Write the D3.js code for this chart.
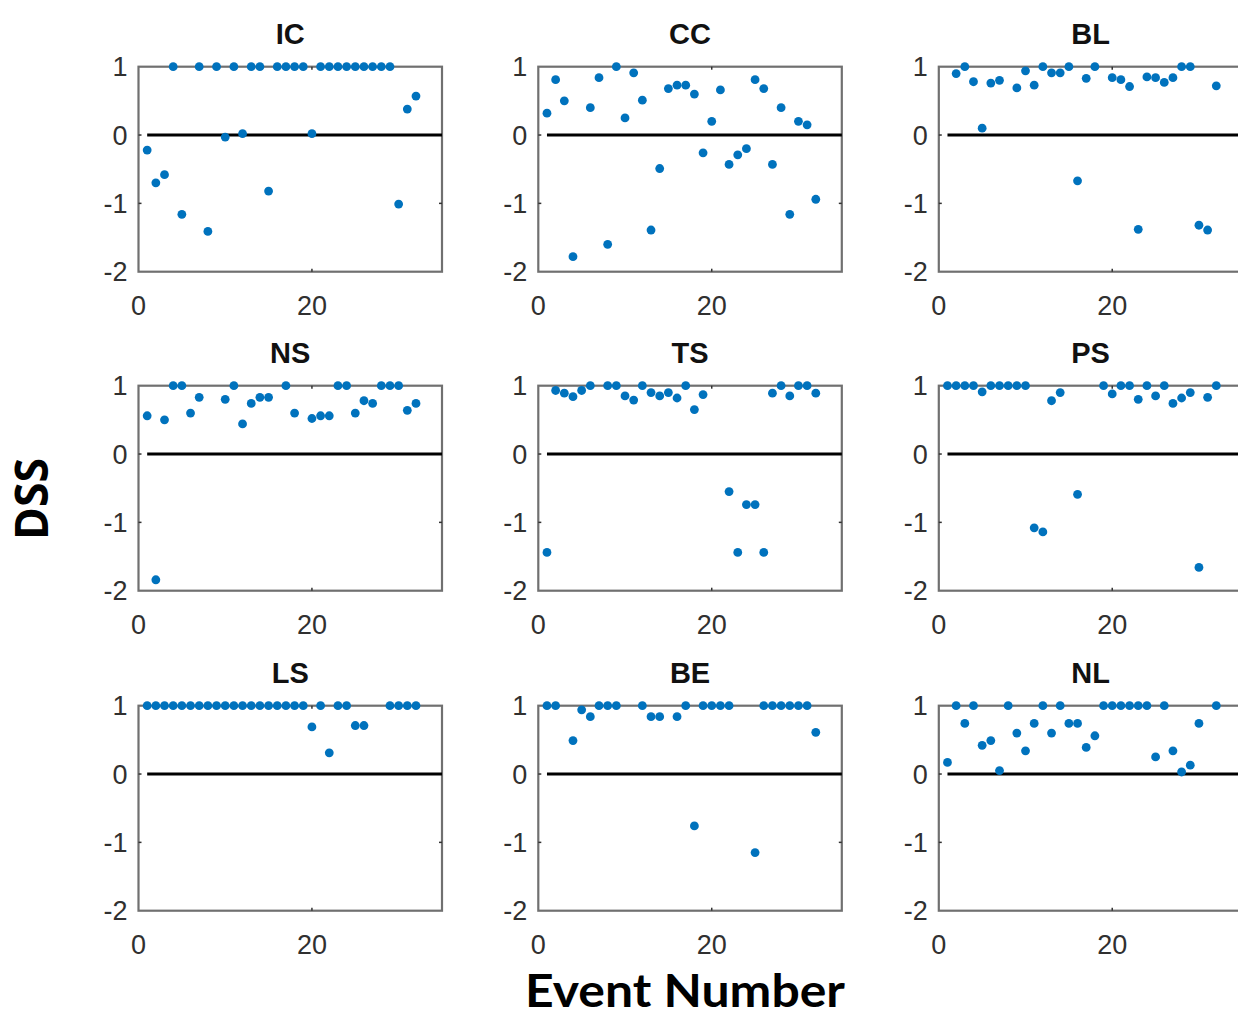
<!DOCTYPE html>
<html><head><meta charset="utf-8">
<script src="https://cdn.jsdelivr.net/npm/d3@7"></script>
<style>html,body{margin:0;padding:0;background:#fff;overflow:hidden}</style>
</head><body>
<script>
const categories = ["IC","CC","BL","NS","TS","PS","LS","BE","NL"];
const xTicks = [0, 20];
const yTicks = [-2, -1, 0, 1];
const _ = null;
// DSS value for events 1..32 (null = no value)
const IC = [-0.22,-0.70,-0.58,1,-1.16,_,1,-1.41,1,-0.03,1,0.02,1,1,-0.82,1,1,1,1,0.02,1,1,1,1,1,1,1,1,1,-1.01,0.38,0.57];
const CC = [0.32,0.81,0.50,-1.78,_,0.40,0.84,-1.60,1,0.25,0.91,0.51,-1.39,-0.49,0.68,0.73,0.73,0.60,-0.26,0.20,0.66,-0.43,-0.29,-0.20,0.81,0.68,-0.43,0.40,-1.16,0.20,0.15,-0.94];
const BL = [_,0.90,1,0.78,0.10,0.76,0.80,_,0.69,0.94,0.73,1,0.91,0.91,1,-0.67,0.83,1,_,0.84,0.81,0.71,-1.38,0.85,0.84,0.77,0.84,1,1,-1.32,-1.39,0.72];
const NS = [0.56,-1.84,0.50,1,1,0.60,0.83,_,_,0.80,1,0.44,0.74,0.83,0.83,_,1,0.60,_,0.52,0.56,0.56,1,1,0.60,0.78,0.74,1,1,1,0.64,0.74];
const TS = [-1.44,0.93,0.89,0.84,0.93,1,_,1,1,0.85,0.79,1,0.90,0.85,0.90,0.82,1,0.65,0.87,_,_,-0.55,-1.44,-0.74,-0.74,-1.44,0.89,1,0.85,1,1,0.89];
const PS = [1,1,1,1,0.91,1,1,1,1,1,-1.08,-1.14,0.78,0.90,_,-0.59,_,_,1,0.88,1,1,0.80,1,0.85,1,0.74,0.82,0.90,-1.66,0.83,1];
const LS = [1,1,1,1,1,1,1,1,1,1,1,1,1,1,1,1,1,1,1,0.69,1,0.31,1,1,0.71,0.71,_,_,1,1,1,1];
const BE = [1,1,_,0.49,0.94,0.84,1,1,1,_,_,1,0.84,0.84,_,0.84,1,-0.76,1,1,1,1,_,_,-1.15,1,1,1,1,1,1,0.61];
const NL = [0.17,1,0.74,1,0.42,0.49,0.05,1,0.60,0.34,0.74,1,0.60,1,0.74,0.74,0.39,0.56,1,1,1,1,1,1,0.25,1,0.34,0.03,0.13,0.74,_,1];
const seriesList = [IC, CC, BL, NS, TS, PS, LS, BE, NL];

const W = 1238, H = 1018;
const svg = d3.select("body").append("svg").attr("width", W).attr("height", H);

const colX = [138.5, 538.3, 938.8];
const rowY = [66.7, 385.7, 705.7];
const pw = 303.5, ph = 205;
const blue = "#0072BD";

categories.forEach((cat, i) => {
  const r = Math.floor(i / 3), c = i % 3;
  const x0 = colX[c], y0 = rowY[r];
  const g = svg.append("g").attr("transform", `translate(${x0},${y0})`);
  const x = d3.scaleLinear().domain([0, 35]).range([0, pw]);
  const y = d3.scaleLinear().domain([-2, 1]).range([ph, 0]);

  // box
  g.append("rect").attr("x", 0).attr("y", 0).attr("width", pw).attr("height", ph)
    .attr("fill", "none").attr("stroke", "#707070").attr("stroke-width", 2.2);

  // ticks inside
  const tl = 3;
  xTicks.filter(t => t > 0 && t < 35).forEach(t => {
    g.append("line").attr("x1", x(t)).attr("x2", x(t)).attr("y1", ph).attr("y2", ph - tl).attr("stroke", "#333").attr("stroke-width", 1.5);
    g.append("line").attr("x1", x(t)).attr("x2", x(t)).attr("y1", 0).attr("y2", tl).attr("stroke", "#333").attr("stroke-width", 1.5);
  });
  yTicks.filter(t => t > -2 && t < 1).forEach(t => {
    g.append("line").attr("x1", 0).attr("x2", tl).attr("y1", y(t)).attr("y2", y(t)).attr("stroke", "#333").attr("stroke-width", 1.5);
    g.append("line").attr("x1", pw).attr("x2", pw - tl).attr("y1", y(t)).attr("y2", y(t)).attr("stroke", "#333").attr("stroke-width", 1.5);
  });

  // tick labels
  g.selectAll("text.xt").data(xTicks).enter().append("text")
    .attr("x", d => x(d)).attr("y", ph + 43)
    .attr("text-anchor", "middle").attr("font-family", "'Liberation Sans', Arial, sans-serif")
    .attr("font-size", 27).attr("fill", "#303030").text(d => d);
  g.selectAll("text.yt").data(yTicks).enter().append("text")
    .attr("x", -11).attr("y", d => y(d)).attr("dy", "0.36em")
    .attr("text-anchor", "end").attr("font-family", "'Liberation Sans', Arial, sans-serif")
    .attr("font-size", 27).attr("fill", "#303030").text(d => d);

  // zero line
  g.append("line").attr("x1", x(1)).attr("x2", x(35)).attr("y1", y(0)).attr("y2", y(0))
    .attr("stroke", "#000").attr("stroke-width", 3);

  // title
  g.append("text").attr("x", pw / 2).attr("y", -23)
    .attr("text-anchor", "middle").attr("font-family", "'Liberation Sans', Arial, sans-serif")
    .attr("font-weight", "bold").attr("font-size", 29).attr("fill", "#111").text(cat);

  // points
  const pts = seriesList[i].map((v, k) => ({ e: k + 1, v })).filter(d => d.v !== null);
  g.selectAll("circle.pt").data(pts).enter().append("circle")
    .attr("cx", d => x(d.e)).attr("cy", d => y(d.v)).attr("r", 4.4)
    .attr("fill", blue);
});

// axis labels
svg.append("text").attr("x", 685).attr("y", 1007).attr("text-anchor", "middle")
  .attr("font-family", "Lato, 'Open Sans', sans-serif").attr("font-weight", "bold")
  .attr("font-size", 45).attr("fill", "#000")
  .attr("textLength", 320).attr("lengthAdjust", "spacingAndGlyphs").text("Event Number");
svg.append("text").attr("transform", "translate(48,499) rotate(-90)").attr("text-anchor", "middle")
  .attr("font-family", "'Open Sans', sans-serif").attr("font-weight", "bold")
  .attr("font-size", 46).attr("fill", "#000")
  .attr("textLength", 82).attr("lengthAdjust", "spacingAndGlyphs").text("DSS");
</script>
</body></html>
